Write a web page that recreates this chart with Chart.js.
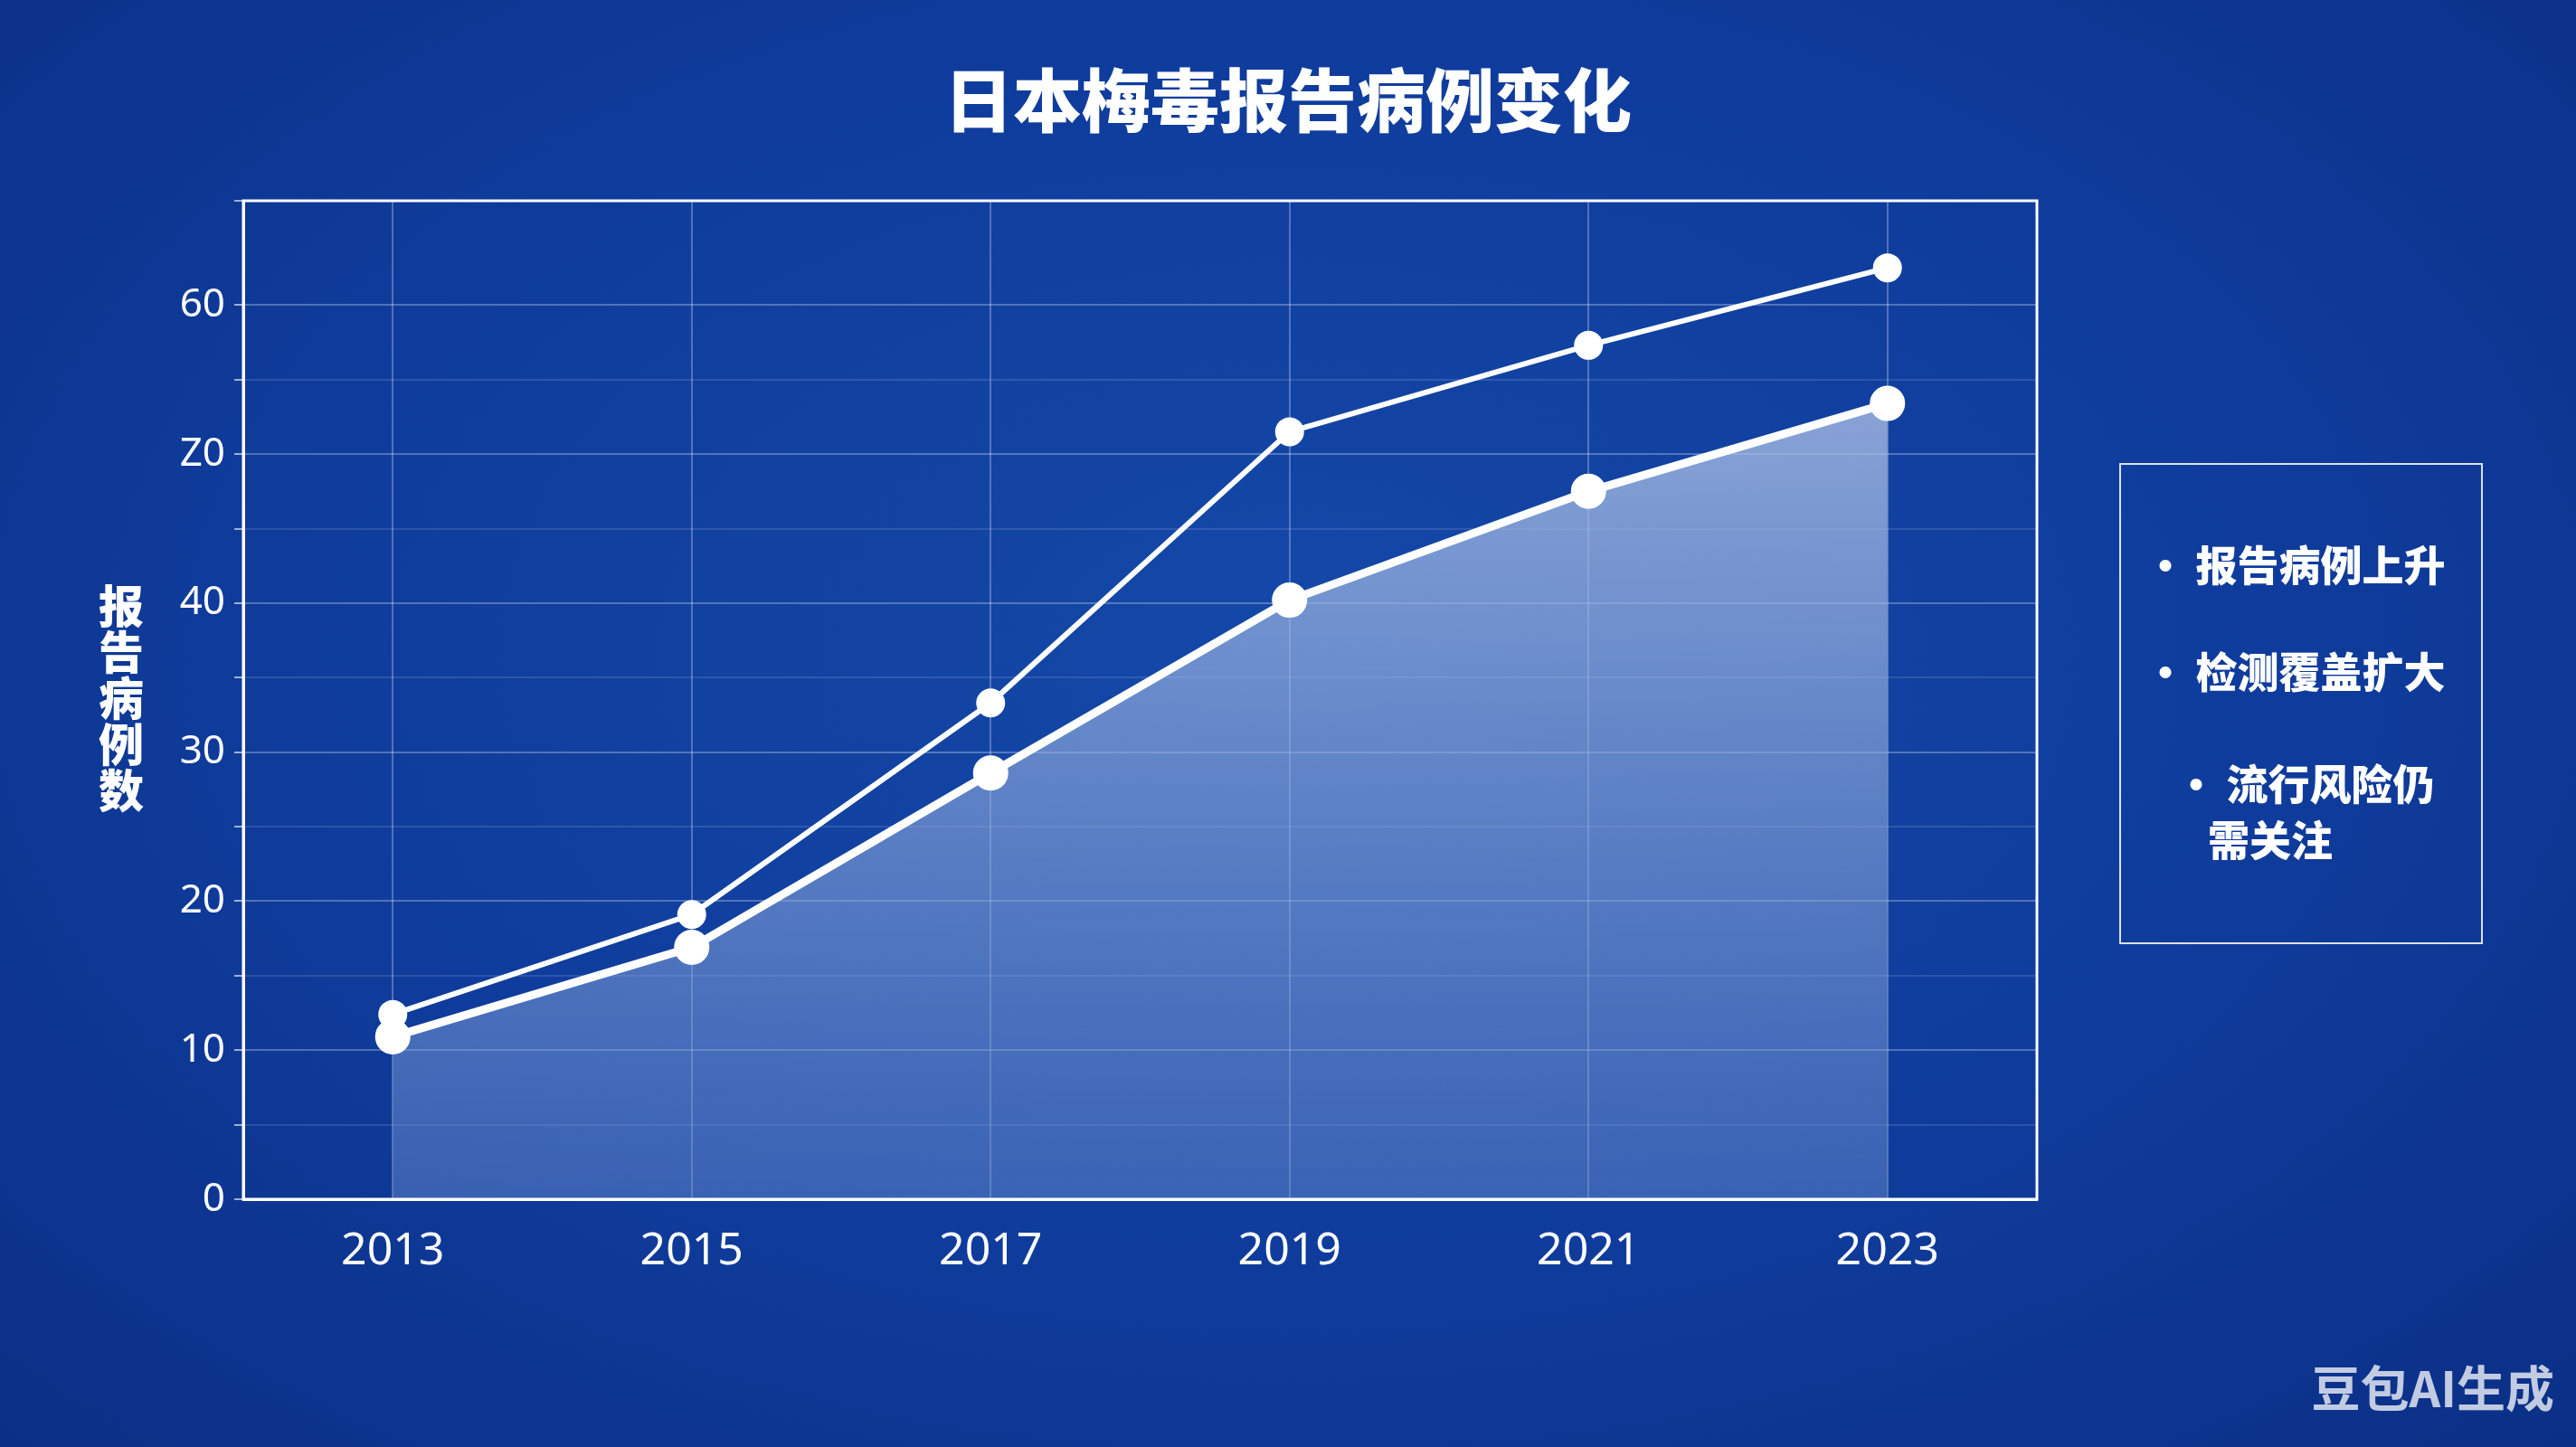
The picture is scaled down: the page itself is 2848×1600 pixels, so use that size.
<!DOCTYPE html>
<html><head><meta charset="utf-8">
<script src="https://cdn.jsdelivr.net/npm/chart.js@4"></script>
<style>
html,body{margin:0;padding:0;width:2848px;height:1600px;overflow:hidden;
background:radial-gradient(ellipse at 50% 45%,#1448a8 0%,#0f3c9c 55%,#0b2f86 100%);
font-family:"Noto Sans CJK SC","Noto Sans",sans-serif;color:#fff}
#wrap{position:absolute;left:0;top:0;width:2848px;height:1600px}
#title{position:absolute;left:0;width:2848px;top:52px;text-align:center;font-size:76px;font-weight:900}
#ytitle{position:absolute;left:102px;top:642px;width:64px;font-size:50px;font-weight:900;line-height:51px;text-align:center}
#box{position:absolute;left:2343px;top:512px;width:402px;height:532px;border:2px solid rgba(255,255,255,0.85);box-sizing:border-box}
.it{position:absolute;font-size:46px;font-weight:900;line-height:60px;white-space:nowrap}
#wm{position:absolute;right:24px;bottom:28px;font-size:54px;font-weight:700;color:rgba(255,255,255,0.75)}
</style></head><body>
<div id="wrap"><canvas id="c"></canvas></div>
<div id="title">日本梅毒报告病例变化</div>
<div id="ytitle">报<br>告<br>病<br>例<br>数</div>
<div id="box">
<div class="it" style="left:26px;top:78px">· 报告病例上升</div>
<div class="it" style="left:26px;top:196px">· 检测覆盖扩大</div>
<div class="it" style="left:60px;top:320px">· 流行风险仍</div>
<div class="it" style="left:96px;top:382px">需关注</div>
</div>
<div id="wm">豆包AI生成</div>
<script>
const years=['2013','2015','2017','2019','2021','2023'];
const upper=[12.4,19.1,33.3,51.5,57.3,62.5];
const lower=[10.9,16.9,28.6,40.2,47.5,53.4];
const tickLabels={0:'0',10:'10',20:'20',30:'30',40:'40',50:'Z0',60:'60'};
Chart.defaults.font.family='"Noto Sans","DejaVu Sans",sans-serif';
const frame={id:'frame',afterDraw(ch){const a=ch.chartArea,c=ch.ctx;c.save();c.strokeStyle='#fff';c.lineWidth=3;
 c.strokeRect(a.left,a.top,a.right-a.left,a.bottom-a.top);c.restore();}};
new Chart(document.getElementById('c'),{
type:'line',
data:{labels:years,datasets:[
{data:upper,borderColor:'#fff',borderWidth:6,pointRadius:13,pointBackgroundColor:'#fff',pointBorderColor:'#fff',fill:false,tension:0},
{data:lower,borderColor:'#fff',borderWidth:9,pointRadius:15,pointBackgroundColor:'#fff',pointBorderColor:'#fff',tension:0,fill:'origin',
 backgroundColor:(ctx)=>{const a=ctx.chart.chartArea;if(!a)return 'rgba(170,190,230,0.6)';
  const g=ctx.chart.ctx.createLinearGradient(0,a.top,0,a.bottom);
  g.addColorStop(0,'rgba(190,205,235,0.85)');g.addColorStop(1,'rgba(110,145,210,0.45)');return g;}}
]},
plugins:[frame],
options:{responsive:true,maintainAspectRatio:false,animation:false,
layout:{padding:{top:222,right:596,left:0,bottom:0}},
plugins:{legend:{display:false},tooltip:{enabled:false}},
scales:{
x:{offset:true,grid:{color:'rgba(255,255,255,0.28)',lineWidth:2,offset:false,drawTicks:false},
 border:{color:'#fff',width:3},
 ticks:{color:'#fff',font:{size:50},padding:28},
 afterFit:(s)=>{s.height=274;}},
y:{min:0,max:67,grid:{color:(c)=>c.tick&&c.tick.value%10===0?'rgba(255,255,255,0.28)':'rgba(255,255,255,0.12)',lineWidth:2,drawTicks:true,tickLength:10,tickColor:'rgba(255,255,255,0.6)'},
 border:{color:'#fff',width:3},
 ticks:{stepSize:5,color:'#fff',font:{size:44},padding:10,callback:(v)=>tickLabels[v]!==undefined?tickLabels[v]:''},
 afterFit:(s)=>{s.width=269;}}
}}});
</script>
</body></html>
